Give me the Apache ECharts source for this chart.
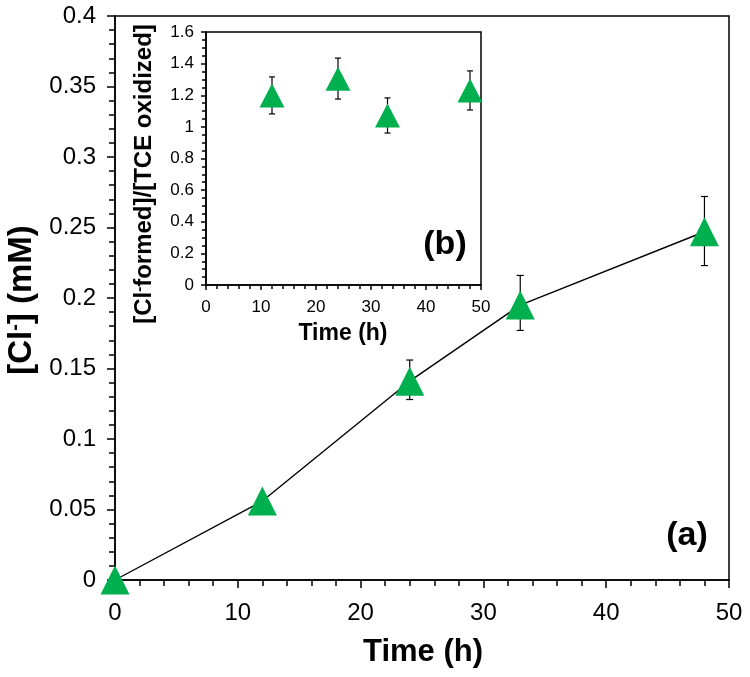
<!DOCTYPE html>
<html><head><meta charset="utf-8">
<script src="https://cdn.jsdelivr.net/npm/echarts@6/dist/echarts.min.js"></script>
<style>html,body{margin:0;padding:0;background:#fff}#c{width:750px;height:677px}</style>
</head><body><div id="c"></div>
<script>
// ---- data ----
const mainTime = [0, 12, 24, 33, 48];
const mainCl = [0, 0.056, 0.141, 0.195, 0.247];
const mainErrLow = [null, null, 0.128, 0.177, 0.223];
const mainErrHigh = [null, null, 0.156, 0.216, 0.272];

const insetTime = [12, 24, 33, 48];
const insetRatio = [1.199, 1.305, 1.072, 1.230];
const insetErrLow = [1.082, 1.176, 0.961, 1.107];
const insetErrHigh = [1.316, 1.435, 1.183, 1.354];

const mainXRange = [0, 50, 10];
const mainYRange = [0, 0.4, 0.05];
const insetXRange = [0, 50, 10];
const insetYRange = [0, 1.6, 0.2];

const FONT = '"Liberation Sans", Arial, Helvetica, sans-serif';
const GREEN = '#00b04f';

function errBar(cap) {
  return function (params, api) {
    const x = api.value(0), lo = api.value(1), hi = api.value(2);
    const pHi = api.coord([x, hi]);
    const pLo = api.coord([x, lo]);
    const st = { stroke: '#000', lineWidth: 1.2 };
    return {
      type: 'group',
      children: [
        { type: 'line', shape: { x1: pHi[0], y1: pHi[1], x2: pLo[0], y2: pLo[1] }, style: st },
        { type: 'line', shape: { x1: pHi[0] - cap, y1: pHi[1], x2: pHi[0] + cap, y2: pHi[1] }, style: st },
        { type: 'line', shape: { x1: pLo[0] - cap, y1: pLo[1], x2: pLo[0] + cap, y2: pLo[1] }, style: st }
      ]
    };
  };
}

function axisCommon(range, fontSize, margin, tickLen, minorLen, split) {
  return {
    type: 'value', min: range[0], max: range[1], interval: range[2],
    axisLine: { show: true, onZero: false, lineStyle: { color: '#000', width: 1.5 } },
    axisTick: { show: true, inside: false, length: tickLen, lineStyle: { color: '#000', width: 1.5 } },
    minorTick: { show: true, splitNumber: split, length: minorLen, lineStyle: { color: '#000', width: 1.5 } },
    splitLine: { show: false },
    axisLabel: { color: '#000', fontSize: fontSize, fontFamily: FONT, margin: margin }
  };
}

const mainErrData = mainTime.map((t, i) => [t, mainErrLow[i], mainErrHigh[i]]).filter(d => d[1] !== null);
const insetErrData = insetTime.map((t, i) => [t, insetErrLow[i], insetErrHigh[i]]);

const chart = echarts.init(document.getElementById('c'), null, { renderer: 'canvas' });
chart.setOption({
  backgroundColor: '#fff',
  animation: false,
  grid: [
    { left: 115, top: 16, right: 21, bottom: 97, show: true, borderColor: '#000', borderWidth: 1.5, backgroundColor: '#fff' },
    { left: 206, top: 32, right: 269, bottom: 392, show: true, borderColor: '#000', borderWidth: 1.5, backgroundColor: '#fff', z: 5 }
  ],
  xAxis: [
    Object.assign(axisCommon(mainXRange, 24, 21, 8, 6, 5), { gridIndex: 0 }),
    Object.assign(axisCommon(insetXRange, 17, 14, 5, 4, 5), { gridIndex: 1, z: 6 })
  ],
  yAxis: [
    Object.assign(axisCommon(mainYRange, 24, 19, 8, 6, 5), { gridIndex: 0 }),
    Object.assign(axisCommon(insetYRange, 17, 12, 5, 4, 4), { gridIndex: 1, z: 6 })
  ],
  series: [
    { type: 'line', xAxisIndex: 0, yAxisIndex: 0, data: mainTime.map((t, i) => [t, mainCl[i]]),
      showSymbol: false, symbol: 'none', lineStyle: { color: '#000', width: 1.4 }, z: 2 },
    { type: 'custom', xAxisIndex: 0, yAxisIndex: 0, data: mainErrData, renderItem: errBar(3.5),
      encode: { x: 0, y: [1, 2] }, z: 1 },
    { type: 'scatter', xAxisIndex: 0, yAxisIndex: 0, data: mainTime.map((t, i) => [t, mainCl[i]]),
      symbol: 'triangle', symbolSize: [29, 29], itemStyle: { color: GREEN, opacity: 1 }, z: 3 },
    { type: 'custom', xAxisIndex: 1, yAxisIndex: 1, data: insetErrData, renderItem: errBar(3),
      encode: { x: 0, y: [1, 2] }, z: 7 },
    { type: 'scatter', xAxisIndex: 1, yAxisIndex: 1, data: insetTime.map((t, i) => [t, insetRatio[i]]),
      symbol: 'triangle', symbolSize: [25, 24], itemStyle: { color: GREEN, opacity: 1 }, z: 8 }
  ],
  graphic: [
    { type: 'text', x: 423, y: 652, z: 20, style: { text: 'Time (h)', fontSize: 31, fontWeight: 'bold', fontFamily: FONT, fill: '#000', align: 'center', verticalAlign: 'middle' } },
    { type: 'text', x: 22, y: 300, rotation: Math.PI / 2, z: 20, style: { text: '[Cl{s|-}] (mM)', fontSize: 33, fontWeight: 'bold', fontFamily: FONT, fill: '#000', align: 'center', verticalAlign: 'middle',
      rich: { s: { fontSize: 20, fontWeight: 'bold', fontFamily: FONT, verticalAlign: 'top', fill: '#000' } } } },
    { type: 'text', x: 343, y: 334, z: 20, style: { text: 'Time (h)', fontSize: 23, fontWeight: 'bold', fontFamily: FONT, fill: '#000', align: 'center', verticalAlign: 'middle' } },
    { type: 'text', x: 144, y: 174, rotation: Math.PI / 2, z: 20, style: { text: '[Cl{s|-}formed]/[TCE oxidized]', fontSize: 24, fontWeight: 'bold', fontFamily: FONT, fill: '#000', align: 'center', verticalAlign: 'middle',
      rich: { s: { fontSize: 15, fontWeight: 'bold', fontFamily: FONT, verticalAlign: 'top', fill: '#000' } } } },
    { type: 'text', x: 687, y: 536, z: 20, style: { text: '(a)', fontSize: 34, fontWeight: 'bold', fontFamily: FONT, fill: '#000', align: 'center', verticalAlign: 'middle' } },
    { type: 'text', x: 445, y: 245, z: 20, style: { text: '(b)', fontSize: 34, fontWeight: 'bold', fontFamily: FONT, fill: '#000', align: 'center', verticalAlign: 'middle' } }
  ]
});
</script></body></html>
